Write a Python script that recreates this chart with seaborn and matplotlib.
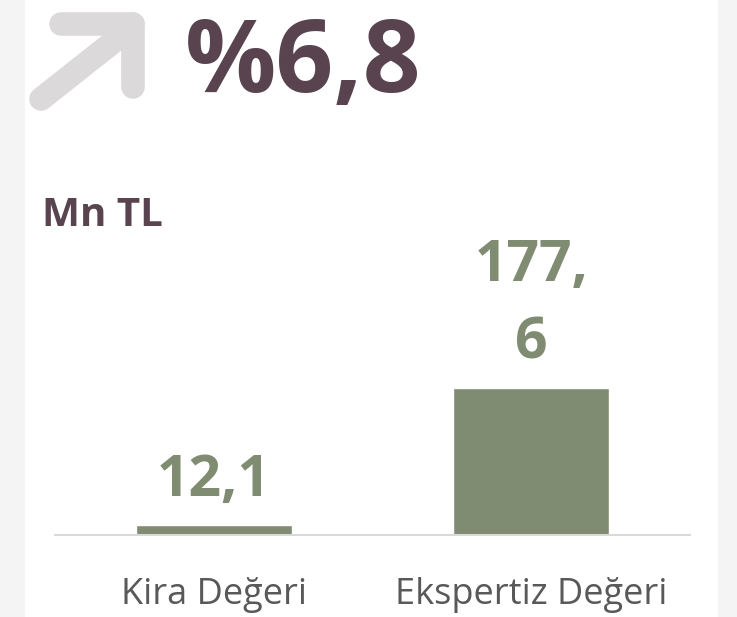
import pandas as pd
import matplotlib.pyplot as plt
from matplotlib.lines import Line2D
from matplotlib.patches import Rectangle
import seaborn as sns

# veriler
kategoriler = ["Kira Değeri", "Ekspertiz Değeri"]
degerler = [12.1, 177.6]
etiketler = ["12,1", "177,\n6"]
artis = "%6,8"
birim = "Mn TL"

YESIL = "#7f8c72"
MOR = "#59434f"
GRI = "#595959"

sns.set_style("white")
plt.rcParams["font.family"] = ["Open Sans", "DejaVu Sans"]

W, H = 737, 617
fig = plt.figure(figsize=(W / 100, H / 100), dpi=100)
fig.patch.set_facecolor("#f4f4f4")
fig.patches.append(Rectangle((25 / W, 0), (718 - 25) / W, 1, transform=fig.transFigure,
                             facecolor="white", edgecolor="none", zorder=-5))

# ok isareti (sag ust)
def px(x, y):
    return x / W, 1 - y / H

ok_rengi = "#dcd9da"
for (x0, y0), (x1, y1) in [((61, 24), (133, 24)), ((133, 24), (133, 87)), ((41, 99), (127, 31))]:
    a, b = px(x0, y0)
    c, d = px(x1, y1)
    fig.lines.append(Line2D([a, c], [b, d], transform=fig.transFigure, color=ok_rengi,
                            linewidth=17, solid_capstyle="round", zorder=-4))

fig.text(185 / W, 1 - 92 / H, artis, fontsize=73, fontweight="bold", color=MOR,
         ha="left", va="baseline")
fig.text(42 / W, 1 - 226 / H, birim, fontsize=29, fontweight="bold", color=MOR,
         ha="left", va="baseline")

ax = fig.add_axes([55 / W, (H - 535) / H, (690 - 55) / W, 335 / H])
ax.set_facecolor("none")
df = pd.DataFrame({"kategori": kategoriler, "deger": degerler})
sns.barplot(data=df, x="kategori", y="deger", color=YESIL, saturation=1, width=0.49, ax=ax)

ax.set_xlim(-0.5, 1.5)
ax.set_ylim(0, 405)
ax.bar_label(ax.containers[0], labels=etiketler, padding=11, fontsize=41,
             fontweight="bold", color=YESIL, linespacing=1.45)

for s in ["top", "right", "left"]:
    ax.spines[s].set_visible(False)
ax.spines["bottom"].set_color("#d9d9d9")
ax.spines["bottom"].set_linewidth(1.5)
ax.set_yticks([])
ax.set_xlabel("")
ax.set_ylabel("")
ax.tick_params(axis="x", length=0, pad=30, labelsize=26, labelcolor=GRI)

fig.savefig("out.png", dpi=100)
